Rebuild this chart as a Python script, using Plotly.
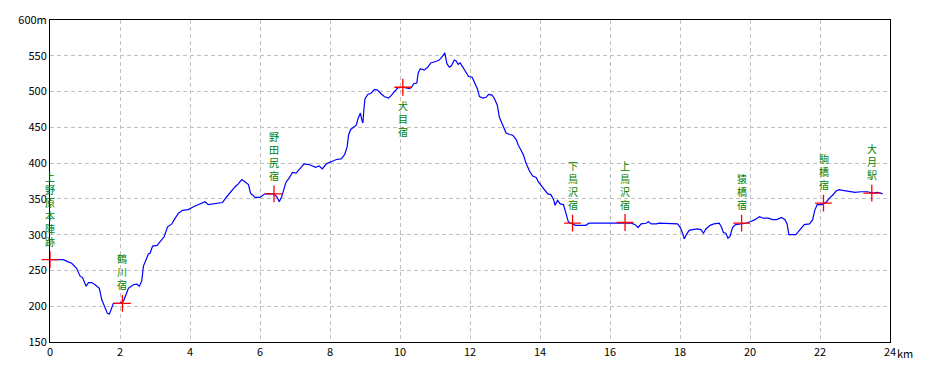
import plotly.graph_objects as go

# Elevation profile (distance km, elevation m)
dist_km = [0.00, 0.38, 0.52, 0.62, 0.76, 0.86, 0.93, 1.03, 1.10, 1.19, 1.29, 1.41, 1.48, 1.57, 1.64, 1.70,
           1.76, 1.81, 2.00, 2.10, 2.17, 2.24, 2.38, 2.48, 2.55, 2.62, 2.67, 2.74, 2.81, 2.86, 2.93, 3.06,
           3.19, 3.26, 3.36, 3.48, 3.55, 3.67, 3.79, 3.95, 4.10, 4.19, 4.33, 4.43, 4.52, 4.67, 4.81, 4.93,
           5.05, 5.19, 5.29, 5.38, 5.48, 5.57, 5.67, 5.73, 5.86, 6.00, 6.14, 6.24, 6.38, 6.48, 6.55, 6.62,
           6.69, 6.74, 6.83, 6.93, 7.03, 7.14, 7.26, 7.40, 7.50, 7.59, 7.69, 7.78, 7.88, 7.94, 8.04, 8.18,
           8.32, 8.42, 8.49, 8.53, 8.59, 8.68, 8.75, 8.80, 8.87, 8.91, 8.94, 8.97, 9.00, 9.08, 9.18, 9.27,
           9.36, 9.46, 9.55, 9.67, 9.74, 9.84, 9.93, 10.08, 10.27, 10.33, 10.39, 10.48, 10.52, 10.58, 10.69,
           10.79, 10.88, 11.02, 11.12, 11.21, 11.28, 11.34, 11.41, 11.47, 11.55, 11.60, 11.66, 11.72, 11.78,
           11.90, 11.96, 12.06, 12.13, 12.21, 12.27, 12.37, 12.46, 12.53, 12.63, 12.70, 12.78, 12.84, 12.91,
           12.97, 13.03, 13.13, 13.22, 13.32, 13.38, 13.46, 13.53, 13.60, 13.70, 13.79, 13.89, 13.95, 14.05,
           14.14, 14.22, 14.31, 14.39, 14.43, 14.50, 14.58, 14.67, 14.74, 14.81, 14.88, 15.02, 15.31, 15.40,
           15.91, 16.61, 16.72, 16.80, 16.89, 17.03, 17.10, 17.18, 17.32, 17.41, 17.93, 18.01, 18.08, 18.12,
           18.17, 18.26, 18.36, 18.50, 18.60, 18.67, 18.74, 18.86, 18.97, 19.12, 19.18, 19.24, 19.31, 19.37,
           19.43, 19.50, 19.59, 19.73, 19.88, 20.00, 20.14, 20.27, 20.38, 20.52, 20.64, 20.76, 20.90, 21.00,
           21.06, 21.11, 21.31, 21.43, 21.55, 21.70, 21.79, 21.85, 21.92, 22.05, 22.17, 22.27, 22.36, 22.46,
           22.55, 22.65, 22.74, 22.86, 23.00, 23.17, 23.36, 23.50, 23.64, 23.73, 23.79]
elev_m = [265, 265, 262, 260, 253, 242, 240, 228, 233, 233, 230, 225, 209, 197, 190, 189,
          197, 204, 204, 207, 216, 225, 230, 231, 228, 235, 256, 265, 273, 274, 284, 285,
          293, 297, 311, 315, 321, 330, 334, 335, 339, 341, 344, 346, 342, 343, 344, 345,
          353, 362, 367, 371, 377, 374, 370, 358, 352, 352, 357, 357, 357, 353, 346, 353,
          367, 373, 379, 387, 386, 393, 399, 398, 396, 394, 396, 392, 398, 400, 402, 405,
          406, 412, 423, 439, 447, 451, 453, 462, 470, 460, 456, 476, 490, 496, 498, 503,
          502, 497, 493, 491, 494, 500, 505, 506, 504, 506, 511, 512, 526, 532, 530,
          534, 540, 542, 544, 549, 554, 539, 534, 536, 544, 543, 538, 540, 535,
          527, 521, 520, 513, 504, 493, 491, 492, 496, 495, 490, 481, 464, 456,
          448, 442, 440, 439, 433, 425, 418, 411, 400, 389, 382, 380, 374, 368,
          362, 357, 356, 349, 341, 348, 343, 342, 330, 318, 316, 313, 313, 316,
          316, 316, 314, 310, 315, 316, 318, 315, 315, 316, 315, 310, 301, 294,
          299, 306, 307, 308, 307, 302, 308, 313, 315, 316, 311, 303, 302, 295,
          298, 310, 314, 315, 316, 318, 321, 325, 323, 323, 321, 321, 324, 321,
          315, 300, 300, 307, 314, 315, 321, 334, 342, 342, 345, 351, 355, 361,
          363, 362, 361, 360, 359, 360, 360, 358, 359, 358, 357]

# Waypoints
station_names = ["上野原本陣跡", "鶴川宿", "野田尻宿", "犬目宿", "下鳥沢宿", "上鳥沢宿", "猿橋宿", "駒橋宿", "大月駅"]
station_km = [0.0, 2.07, 6.40, 10.08, 14.93, 16.43, 19.76, 22.10, 23.48]
station_m = [265, 204, 357, 506, 316, 317, 316, 344, 358]
labels_below = ["犬目宿"]

x_ticks = list(range(0, 25, 2))
x_ticktext = [str(v) for v in x_ticks]
y_ticks = list(range(150, 601, 50))
y_ticktext = [str(v) for v in y_ticks[:-1]] + ["600m"]

fig = go.Figure()
fig.add_trace(go.Scatter(x=dist_km, y=elev_m, mode="lines",
                         line=dict(color="#0000ff", width=1.2), hoverinfo="skip"))
fig.add_trace(go.Scatter(x=station_km, y=station_m, mode="markers", cliponaxis=False,
                         marker=dict(symbol="cross-thin", size=12,
                                     line=dict(color="#ff0000", width=1.3)),
                         hoverinfo="skip"))

gap = 10
for name, xk, ym in zip(station_names, station_km, station_m):
    below = name in labels_below
    fig.add_annotation(x=xk, y=ym, xref="x", yref="y", text="<br>".join(name), showarrow=False,
                       yshift=-gap if below else gap, xanchor="center",
                       yanchor="top" if below else "bottom",
                       font=dict(family="Noto Sans CJK JP", size=10, color="#008000"),
                       borderpad=0)

# unit after the last x tick
fig.add_annotation(x=1, y=0, xref="paper", yref="paper", text="km", showarrow=False,
                   xanchor="left", yanchor="top", xshift=5, yshift=-1,
                   font=dict(family="Noto Sans CJK JP", size=11, color="#000000"))

axis_common = dict(showline=True, linecolor="#000000", linewidth=1, mirror=True,
                   showgrid=True, gridcolor="#c0c0c0", gridwidth=1, griddash="4px,3px",
                   zeroline=False, ticks="", automargin=False,
                   tickfont=dict(family="Noto Sans CJK JP", size=11, color="#000000"))

fig.update_xaxes(range=[0, 24], tickvals=x_ticks, ticktext=x_ticktext, **axis_common)
fig.update_yaxes(range=[150, 600], tickvals=y_ticks, ticktext=y_ticktext, **axis_common)

fig.update_layout(width=930, height=372, showlegend=False,
                  margin=dict(l=50, r=40, t=20, b=30),
                  paper_bgcolor="#ffffff", plot_bgcolor="#ffffff")

fig.write_html("out.html", config={"displayModeBar": False},
               post_script="document.body.style.margin='0';")
